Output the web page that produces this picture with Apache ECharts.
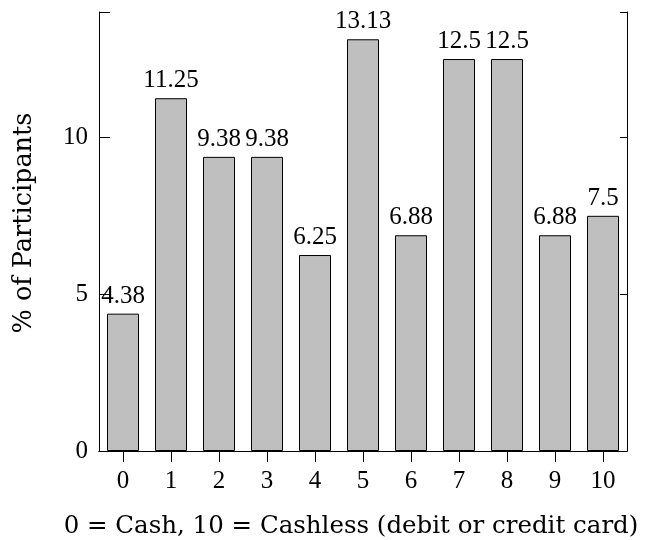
<!DOCTYPE html>
<html>
<head>
<meta charset="utf-8">
<script src="https://cdn.jsdelivr.net/npm/echarts@6/dist/echarts.min.js"></script>
<style>html,body{margin:0;padding:0;background:#fff}#c{width:665px;height:540px}</style>
</head>
<body>
<div id="c"></div>
<script>
const categories = ['0','1','2','3','4','5','6','7','8','9','10'];
const values = [4.38, 11.25, 9.38, 9.38, 6.25, 13.13, 6.88, 12.5, 12.5, 6.88, 7.5];
const yTicks = [0, 5, 10];
const xTitle = '0 = Cash, 10 = Cashless (debit or credit card)';
const yTitle = '% of Participants';

const FONT = 'Liberation Serif';
const TFONT = 'DejaVu Serif';
const FS = 25;
const chart = echarts.init(document.getElementById('c'), null, {renderer: 'canvas'});
const lineStyle = {color: '#000', width: 1};
chart.setOption({
  animation: false,
  backgroundColor: '#fff',
  grid: {left: 99, right: 38, top: 12, bottom: 89, containLabel: false, outerBoundsMode: 'none'},
  xAxis: [
    {
      type: 'category', data: categories, position: 'bottom', boundaryGap: true,
      axisLine: {show: true, lineStyle},
      axisTick: {show: true, alignWithLabel: true, length: 11, inside: false, lineStyle},
      axisLabel: {fontFamily: FONT, fontSize: FS, color: '#000', margin: 18},
      name: xTitle, nameLocation: 'middle', nameGap: 63,
      nameTextStyle: {fontFamily: TFONT, fontSize: 24.5, color: '#000', padding: [0, 24, 0, 0]}
    },
    {
      type: 'category', data: categories, position: 'top', boundaryGap: true,
      axisLine: {show: true, lineStyle},
      axisTick: {show: true, alignWithLabel: true, length: 12, inside: false, lineStyle},
      axisLabel: {show: false}
    }
  ],
  yAxis: [
    {
      type: 'value', min: 0, max: 14, interval: 5, position: 'left',
      splitLine: {show: false},
      axisLine: {show: true, lineStyle},
      axisTick: {show: true, inside: true, length: 11, lineStyle},
      axisLabel: {fontFamily: FONT, fontSize: FS, color: '#000', margin: 11,
        formatter: v => (yTicks.includes(v) ? String(v) : '')},
      name: yTitle, nameLocation: 'middle', nameGap: 62, nameRotate: 90,
      nameTextStyle: {fontFamily: TFONT, fontSize: 25.5, color: '#000', padding: [0, 0, 0, 17]}
    },
    {
      type: 'value', min: 0, max: 14, interval: 5, position: 'right',
      splitLine: {show: false},
      axisLine: {show: true, lineStyle},
      axisTick: {show: true, inside: true, length: 7, lineStyle},
      axisLabel: {show: false}
    }
  ],
  series: [{
    type: 'bar', data: values, xAxisIndex: 0, yAxisIndex: 0,
    barWidth: '66.67%',
    itemStyle: {color: '#bfbfbf', borderColor: '#000', borderWidth: 1},
    label: {show: true, position: 'top', distance: 5, fontFamily: FONT, fontSize: FS, color: '#000',
      formatter: p => String(p.value)}
  }]
});
</script>
</body>
</html>
